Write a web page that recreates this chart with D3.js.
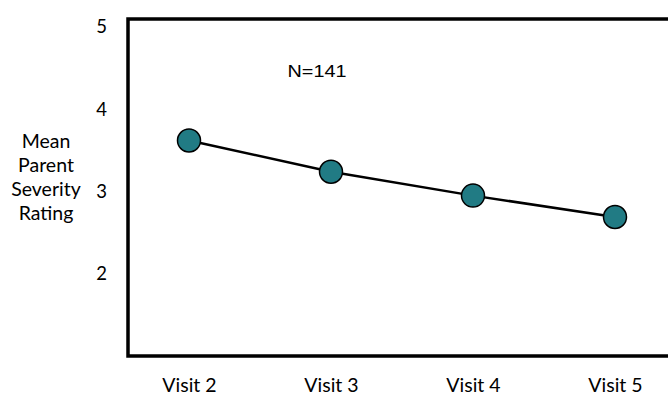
<!DOCTYPE html>
<html><head><meta charset="utf-8">
<script src="https://cdn.jsdelivr.net/npm/d3@7/dist/d3.min.js"></script>
<style>html,body{margin:0;padding:0;background:#fff;}svg{display:block;}</style>
</head><body>
<svg id="chart" width="668" height="397"></svg>
<script>
const categories = ["Visit 2", "Visit 3", "Visit 4", "Visit 5"];
const values = [3.62, 3.24, 2.95, 2.69];
const yTicks = [2, 3, 4, 5];
const yTitle = ["Mean", "Parent", "Severity", "Rating"];
const annotation = "N=141";

const svg = d3.select("#chart");
const W = 668, H = 397;
const frame = {left: 128, top: 19, bottom: 356};

const x = d3.scalePoint().domain(categories).range([189, 615]);
const y = d3.scaleLinear().domain([1, 5]).range([frame.bottom, 27]);

const labelFont = "Lato, 'Noto Sans', sans-serif";

// frame (top, left, bottom; open on the right)
svg.append("path")
  .attr("d", `M${W},${frame.top}H${frame.left}V${frame.bottom}H${W}`)
  .attr("fill", "none").attr("stroke", "#000").attr("stroke-width", 3.5);

// y tick labels
const yAxis = d3.axisLeft(y).tickValues(yTicks).tickSize(0).tickPadding(0).tickFormat(d3.format("d"));
const gy = svg.append("g").attr("transform", "translate(107,0)").call(yAxis);
gy.select(".domain").remove();
gy.selectAll("text").attr("font-family", labelFont).attr("font-size", 18.5).attr("fill", "#000")
  .attr("text-anchor", "end");

// x tick labels
const xAxis = d3.axisBottom(x).tickSize(0).tickPadding(0);
const gx = svg.append("g").attr("transform", "translate(0,378)").call(xAxis);
gx.select(".domain").remove();
gx.selectAll("text").attr("font-family", labelFont).attr("font-size", 19.5).attr("fill", "#000");

// y title
const t = svg.append("text").attr("font-family", labelFont).attr("font-size", 19.5)
  .attr("text-anchor", "middle").attr("fill", "#000");
yTitle.forEach((s, i) => t.append("tspan").attr("x", 46).attr("y", 148 + i * 24).text(s));

// annotation
svg.append("text").attr("transform", "translate(317,77) scale(1.2,1)").attr("text-anchor", "middle")
  .attr("font-family", "'Liberation Sans', Arial, sans-serif").attr("font-size", 16.5)
  .attr("fill", "#000").text(annotation);

// line
const data = categories.map((c, i) => ({c, v: values[i]}));
svg.append("path").datum(data)
  .attr("d", d3.line().x(d => x(d.c)).y(d => y(d.v)))
  .attr("fill", "none").attr("stroke", "#000").attr("stroke-width", 2.5);

svg.selectAll("circle.pt").data(data).join("circle").attr("class", "pt")
  .attr("cx", d => x(d.c)).attr("cy", d => y(d.v)).attr("r", 11.5)
  .attr("fill", "#217B84").attr("stroke", "#000").attr("stroke-width", 1.5);
</script>
</body></html>
